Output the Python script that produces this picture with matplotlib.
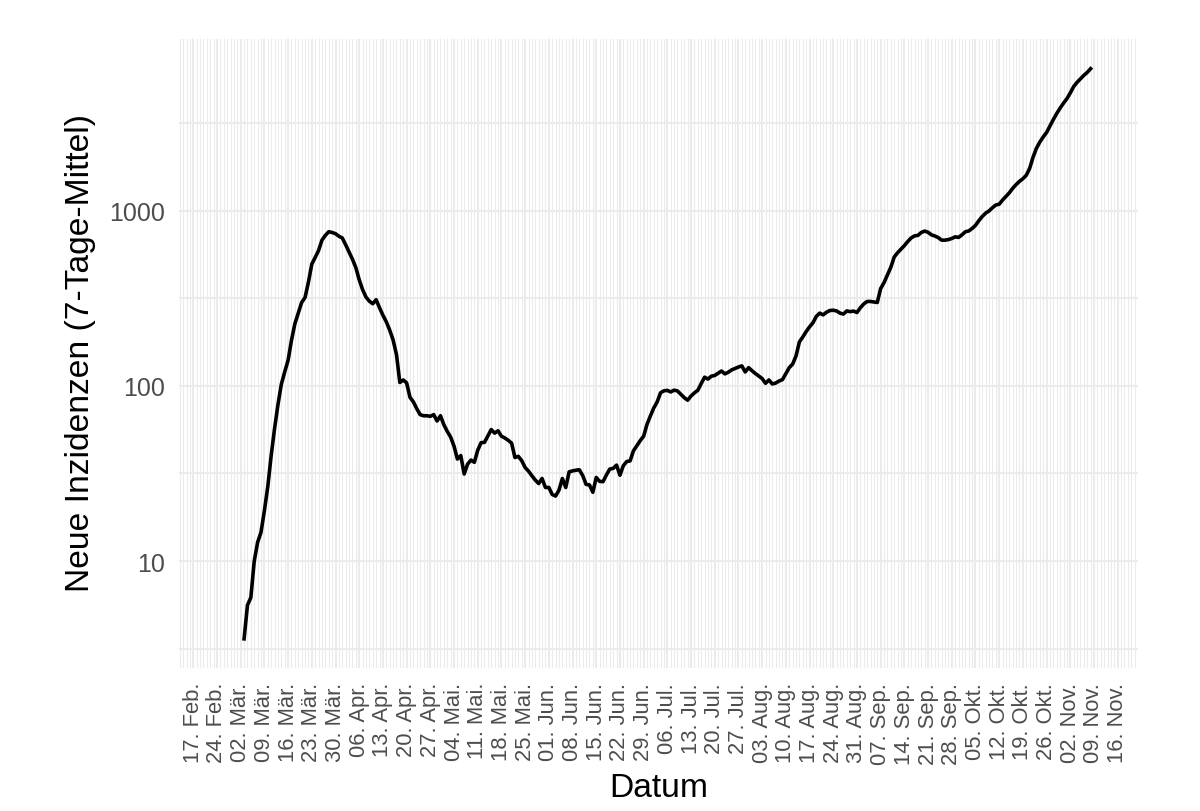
import matplotlib
matplotlib.use("Agg")
import matplotlib.pyplot as plt
import matplotlib.dates as mdates
from matplotlib.ticker import FixedLocator, NullFormatter
import pandas as pd
import numpy as np

# ---------------- data ----------------
start_date = "2020-03-03"
incidence_7d = [
    3.6, 5.6, 6.2, 10, 12.8, 14.6, 19.4, 26.6, 40, 57,
    78, 102, 120, 140, 182, 226, 260, 299, 319, 390,
    495, 540, 592, 678, 722, 757, 750, 738, 714, 698,
    638, 580, 528, 473, 403, 354, 321, 304, 294, 310,
    279, 253, 232, 208, 183, 151, 104.5, 108, 104, 86,
    81, 74, 68.5, 67.5, 67.5, 67, 68.5, 63, 67.5, 60,
    55, 51, 45.3, 38.2, 40, 31.4, 35.7, 37.7, 36.6, 42.9,
    47.4, 47.6, 51.8, 56.3, 53.7, 55.4, 51.6, 50.4, 48.9, 47.1,
    39, 39.6, 37.4, 34.2, 32.6, 30.7, 29, 27.7, 29.6, 26.3,
    26.3, 24, 23.5, 25.4, 29.6, 26.3, 32.3, 32.7, 33, 33.2,
    30.8, 27.4, 27.2, 24.7, 30, 28.5, 28.4, 31, 33.5, 33.8,
    35.3, 30.9, 35, 37, 37.3, 42.6, 45.6, 48.7, 51.6, 60.3,
    67.4, 74.8, 81, 91.3, 93.7, 94.2, 92.3, 94.5, 93.5, 89.5,
    85.6, 82.8, 87.5, 91.2, 94.3, 103, 112, 109.3, 113.5, 114.6,
    118, 121.5, 117, 119.6, 123.3, 125.7, 128, 130, 120, 127,
    122, 117.5, 113.8, 110, 103.4, 108, 102.5, 103.7, 106.5, 108.5,
    117.4, 127, 133, 148, 178, 190, 204, 217, 229, 249,
    260, 254, 263, 269, 270, 267.5, 260, 256.7, 267.5, 265,
    267, 262, 279, 293, 303, 303, 301, 299, 359, 388,
    429, 475, 543, 575, 602, 631, 666, 698, 717, 722,
    750, 764, 752, 727, 716, 701, 678, 678, 683, 693,
    708, 703, 727, 757, 765, 790, 823, 876, 925, 967,
    995, 1038, 1076, 1087, 1148, 1203, 1263, 1340, 1407, 1468,
    1520, 1590, 1740, 2015, 2265, 2460, 2630, 2790, 3040, 3310,
    3581, 3845, 4100, 4350, 4690, 5100, 5390, 5650, 5910, 6140,
    6450,
]
first_week = "2020-02-17"
week_labels = [
    "17. Feb.", "24. Feb.", "02. Mär.", "09. Mär.", "16. Mär.", "23. Mär.",
    "30. Mär.", "06. Apr.", "13. Apr.", "20. Apr.", "27. Apr.", "04. Mai.",
    "11. Mai.", "18. Mai.", "25. Mai.", "01. Jun.", "08. Jun.", "15. Jun.",
    "22. Jun.", "29. Jun.", "06. Jul.", "13. Jul.", "20. Jul.", "27. Jul.",
    "03. Aug.", "10. Aug.", "17. Aug.", "24. Aug.", "31. Aug.", "07. Sep.",
    "14. Sep.", "21. Sep.", "28. Sep.", "05. Okt.", "12. Okt.", "19. Okt.",
    "26. Okt.", "02. Nov.", "09. Nov.", "16. Nov.",
]
y_major = [10, 100, 1000]
y_labels = ["10", "100", "1000"]

# ---------------- plot ----------------
plt.rcParams["font.family"] = ["Liberation Sans", "DejaVu Sans"]

W, H = 1200, 812
fig = plt.figure(figsize=(W / 100, H / 100), dpi=100)
pl, pr, pt, pb = 179, 1138, 40, 669
ax = fig.add_axes([pl / W, (H - pb) / H, (pr - pl) / W, (pb - pt) / H])

dates = pd.date_range(start_date, periods=len(incidence_7d), freq="D")
ax.plot(dates, incidence_7d, color="black", lw=2.6, solid_joinstyle="round",
        zorder=3)

ax.set_yscale("log")
ax.set_ylim(10 ** 0.390, 10 ** 3.979)
base = mdates.date2num(pd.Timestamp(first_week))
ax.set_xlim(base - 4.22, base + 279.0)

week_ticks = pd.date_range(first_week, periods=len(week_labels), freq="7D")
ax.set_xticks(mdates.date2num(week_ticks))
ax.set_xticklabels(week_labels, rotation=90, ha="center", va="top",
                   fontsize=15.8, color="#4D4D4D")
lo, hi = ax.get_xlim()
ax.xaxis.set_minor_locator(FixedLocator(np.arange(np.ceil(lo), hi + 0.01, 1.0)))

ax.yaxis.set_major_locator(FixedLocator(y_major))
ax.set_yticklabels(y_labels, fontsize=18, color="#4D4D4D")
ax.yaxis.set_minor_locator(FixedLocator([10 ** 0.5, 10 ** 1.5, 10 ** 2.5, 10 ** 3.5]))
ax.yaxis.set_minor_formatter(NullFormatter())

ax.tick_params(axis="both", which="both", length=0)
ax.tick_params(axis="x", pad=10)
ax.tick_params(axis="y", pad=10)

gc = "#EBEBEB"
ax.grid(which="minor", axis="x", color=gc, lw=0.75)
ax.grid(which="major", axis="x", color=gc, lw=1.5)
ax.grid(which="both", axis="y", color=gc, lw=1.5)
ax.set_axisbelow(True)
for s in ax.spines.values():
    s.set_visible(False)

fig.text(89 / W, 1 - 353 / H, "Neue Inzidenzen (7-Tage-Mittel)", rotation=90,
         rotation_mode="anchor", ha="center", va="baseline", fontsize=24.2,
         color="black")
fig.text(659 / W, 1 - 797 / H, "Datum", ha="center", va="baseline",
         fontsize=24.2, color="black")

fig.savefig("out.png", dpi=100, facecolor="white")
